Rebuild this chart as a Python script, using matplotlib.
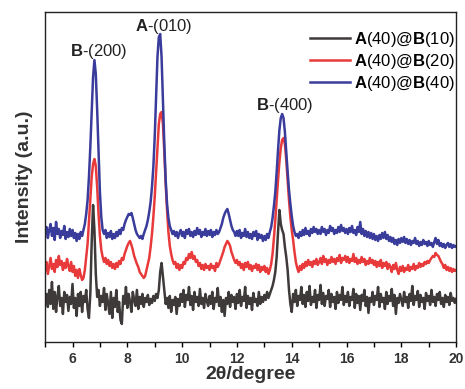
import numpy as np
import matplotlib
matplotlib.use("Agg")
import matplotlib.pyplot as plt
from matplotlib.ticker import MultipleLocator

plt.rcParams["font.family"] = ["Liberation Sans", "DejaVu Sans"]
plt.rcParams["mathtext.fontset"] = "custom"
plt.rcParams["mathtext.rm"] = "Liberation Sans"
plt.rcParams["mathtext.bf"] = "Liberation Sans:bold"

# -----------------------------
# data: 2theta grid (5..20, step 0.05) and intensity (a.u., offset traces)
# -----------------------------
two_theta = np.round(np.arange(5.0, 20.0001, 0.05), 2)

i_b10 = [
    40, 48, 35, 52, 38, 60, 33, 50, 30, 46, 56, 36, 44, 28, 50, 40, 47, 31, 45, 38,
    58, 34, 44, 26, 48, 36, 50, 30, 46, 40, 52, 33, 24, 48, 100, 137, 112, 68, 45, 52,
    36, 46, 40, 54, 32, 48, 38, 28, 50, 24, 44, 35, 52, 30, 40, 22, 18, 46, 38, 55,
    34, 48, 40, 30, 50, 42, 36, 52, 33, 45, 38, 48, 35, 44, 40, 47, 37, 43, 39, 46,
    41, 48, 44, 52, 70, 79, 65, 50, 38, 44, 34, 46, 30, 42, 37, 45, 28, 43, 36, 48,
    40, 52, 35, 47, 42, 55, 37, 46, 32, 50, 40, 45, 36, 53, 38, 44, 34, 48, 41, 36,
    46, 38, 50, 33, 44, 40, 54, 36, 45, 30, 42, 26, 44, 38, 50, 35, 47, 40, 45, 33,
    48, 39, 52, 36, 45, 41, 55, 34, 46, 38, 44, 32, 49, 40, 43, 36, 50, 38, 45, 40,
    47, 42, 50, 44, 48, 52, 56, 62, 70, 85, 110, 132, 118, 112, 108, 95, 85, 72, 52, 38,
    30, 48, 40, 52, 36, 46, 42, 55, 38, 47, 35, 50, 41, 56, 37, 45, 40, 52, 34, 47,
    42, 57, 38, 49, 36, 46, 43, 52, 35, 48, 40, 45, 33, 50, 39, 47, 42, 55, 37, 46,
    40, 50, 36, 45, 42, 53, 34, 48, 39, 46, 32, 47, 41, 52, 36, 45, 29, 44, 40, 50,
    37, 46, 42, 55, 35, 48, 40, 44, 33, 50, 38, 46, 41, 53, 36, 47, 28, 44, 39, 48,
    42, 36, 50, 40, 45, 34, 48, 41, 56, 37, 46, 42, 51, 35, 47, 40, 44, 33, 49, 41,
    46, 37, 52, 40, 45, 36, 48, 42, 50, 38, 44, 35, 47, 40, 45, 37, 49, 41, 44, 39,
    43,
]

i_b20 = [
    72, 80, 68, 76, 84, 73, 78, 70, 82, 75, 86, 77, 81, 72, 79, 74, 83, 76, 71, 80,
    70, 76, 66, 72, 64, 73, 67, 62, 64, 72, 85, 98, 120, 142, 165, 178, 183, 176, 155, 128,
    106, 92, 85, 80, 84, 78, 82, 76, 80, 74, 78, 73, 79, 75, 81, 78, 84, 82, 88, 92,
    96, 99, 101, 97, 92, 86, 82, 78, 75, 70, 68, 66, 64, 66, 72, 78, 84, 95, 108, 125,
    145, 170, 195, 218, 228, 230, 218, 190, 158, 132, 110, 96, 88, 82, 78, 80, 74, 78, 72, 77,
    74, 80, 78, 84, 82, 88, 84, 90, 83, 86, 80, 82, 76, 79, 73, 77, 72, 78, 74, 76,
    72, 78, 74, 76, 71, 79, 75, 78, 82, 86, 90, 95, 98, 101, 99, 96, 90, 86, 82, 79,
    82, 77, 80, 74, 78, 72, 79, 75, 80, 73, 77, 71, 76, 74, 78, 72, 77, 70, 75, 72,
    76, 70, 74, 68, 72, 78, 88, 104, 122, 142, 162, 180, 194, 202, 204, 198, 182, 162, 142, 125,
    112, 102, 90, 80, 74, 70, 76, 72, 78, 74, 80, 76, 82, 77, 80, 75, 81, 78, 83, 77,
    80, 84, 78, 86, 80, 83, 77, 82, 79, 85, 80, 83, 78, 84, 81, 87, 79, 84, 82, 86,
    80, 85, 79, 83, 81, 88, 80, 84, 78, 82, 79, 85, 80, 83, 77, 81, 78, 84, 79, 82,
    77, 81, 75, 80, 76, 82, 74, 79, 76, 80, 73, 78, 75, 70, 77, 73, 79, 72, 68, 75,
    71, 76, 70, 74, 72, 77, 71, 75, 73, 78, 72, 76, 74, 79, 75, 78, 76, 80, 78, 81,
    79, 82, 84, 86, 85, 89, 87, 86, 83, 80, 78, 74, 77, 72, 75, 71, 74, 70, 73, 71,
    72,
]

i_b40 = [
    108, 115, 104, 112, 118, 106, 114, 102, 120, 108, 113, 104, 111, 107, 116, 103, 110, 105, 113, 106,
    112, 104, 109, 101, 108, 103, 110, 106, 112, 118, 128, 142, 165, 195, 230, 265, 282, 268, 232, 190,
    150, 125, 112, 108, 112, 104, 109, 105, 111, 103, 108, 104, 110, 106, 112, 108, 114, 112, 118, 122,
    125, 128, 127, 129, 124, 118, 112, 108, 106, 104, 106, 103, 108, 112, 116, 122, 130, 140, 155, 175,
    205, 245, 285, 305, 308, 285, 240, 198, 162, 138, 124, 116, 112, 108, 111, 106, 110, 104, 109, 112,
    106, 110, 104, 112, 108, 113, 106, 110, 105, 111, 107, 114, 108, 112, 105, 110, 107, 113, 106, 111,
    107, 112, 105, 110, 107, 112, 108, 110, 114, 118, 124, 128, 131, 133, 128, 122, 116, 112, 110, 106,
    111, 106, 112, 104, 109, 106, 113, 105, 110, 104, 108, 103, 110, 106, 111, 102, 108, 104, 107, 101,
    106, 102, 108, 104, 110, 115, 124, 136, 150, 170, 192, 212, 224, 228, 224, 210, 190, 170, 152, 138,
    126, 116, 110, 106, 108, 104, 110, 106, 112, 107, 114, 108, 111, 106, 113, 109, 115, 110, 113, 108,
    112, 108, 115, 110, 113, 107, 112, 109, 116, 111, 114, 108, 112, 109, 115, 110, 117, 111, 114, 109,
    113, 108, 114, 110, 116, 109, 112, 107, 115, 110, 120, 108, 113, 106, 111, 105, 110, 104, 109, 103,
    108, 102, 106, 101, 107, 103, 109, 104, 110, 103, 107, 101, 105, 100, 104, 98, 102, 97, 103, 99,
    104, 100, 105, 99, 103, 98, 102, 97, 101, 99, 104, 98, 101, 96, 100, 97, 102, 98, 100, 96,
    101, 97, 99, 95, 100, 104, 98, 102, 96, 99, 95, 98, 94, 97, 99, 95, 98, 94, 97, 95,
    96,
]

labels = [r"$\mathbf{A}$(40)@$\mathbf{B}$(10)",
          r"$\mathbf{A}$(40)@$\mathbf{B}$(20)",
          r"$\mathbf{A}$(40)@$\mathbf{B}$(40)"]
colors = ["#3f3a3a", "#e8393b", "#3a3c9c"]

peak_names = [r"$\mathbf{B}$-(200)", r"$\mathbf{A}$-(010)", r"$\mathbf{B}$-(400)"]
peak_pos = [(6.97, 291), (9.31, 316), (13.76, 237)]

xtick_vals = [6, 8, 10, 12, 14, 16, 18, 20]

# -----------------------------
# plot
# -----------------------------
fig = plt.figure(figsize=(4.65, 3.89), dpi=100)
ax = fig.add_axes([0.097, 0.121, 0.884, 0.848])

for y, lab, c in zip([i_b10, i_b20, i_b40], labels, colors):
    ax.plot(two_theta, y, color=c, lw=1.8, label=lab)

for txt, (px, py) in zip(peak_names, peak_pos):
    ax.text(px, py, txt, ha="center", va="center", fontsize=12, color="#222222")

ax.set_xlim(5, 20)
ax.set_ylim(0, 330)
ax.set_yticks([])
ax.set_xticks(xtick_vals)
ax.set_xticklabels([str(v) for v in xtick_vals], fontsize=10, fontweight="bold",
                   color="#333333")
ax.xaxis.set_minor_locator(MultipleLocator(1))
ax.tick_params(axis="x", which="both", direction="out", length=3.5, width=1, pad=3.5)
for s in ax.spines.values():
    s.set_linewidth(1)
    s.set_color("#222222")

ax.set_xlabel("2θ/degree", fontsize=14, fontweight="bold", labelpad=0, color="#333333")
ax.set_ylabel("Intensity (a.u.)", fontsize=14, fontweight="bold", labelpad=9, color="#333333")

ax.legend(loc="upper right", bbox_to_anchor=(1.018, 0.972), frameon=False,
          fontsize=12, handlelength=2.4, handletextpad=0.25, labelspacing=0.2,
          borderaxespad=0.1)

fig.savefig("out.png", dpi=100)
